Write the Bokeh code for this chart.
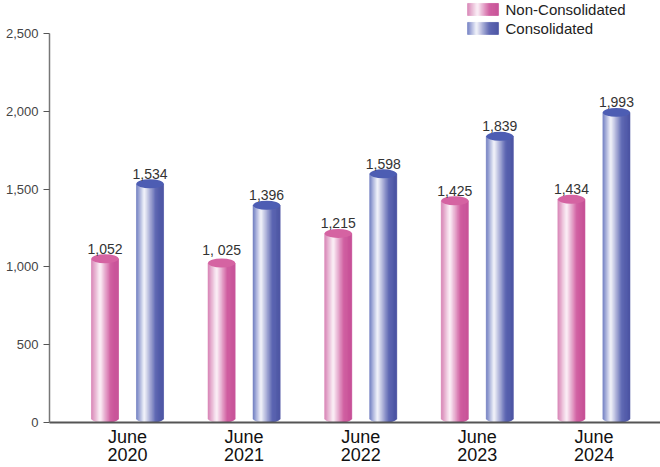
import numpy as np
from bokeh.plotting import figure
from bokeh.models import ColumnDataSource, FixedTicker, Range1d, NumeralTickFormatter
from bokeh.embed import file_html
from bokeh.resources import INLINE
from bokeh.core.properties import value

# ---------------- data ----------------
categories = ["June\n2020", "June\n2021", "June\n2022", "June\n2023", "June\n2024"]
non_consolidated = [1052, 1025, 1215, 1425, 1434]
consolidated = [1534, 1396, 1598, 1839, 1993]
non_labels = ["1,052", "1, 025", "1,215", "1,425", "1,434"]
con_labels = ["1,534", "1,396", "1,598", "1,839", "1,993"]
y_ticks = [0, 500, 1000, 1500, 2000, 2500]
series_names = ["Non-Consolidated", "Consolidated"]

# ---------------- style ----------------
PINK_STOPS = [(0.0, "#d67fb2"), (0.33, "#fcf2f8"), (0.72, "#cf5a9e"), (1.0, "#c54d94")]
BLUE_STOPS = [(0.0, "#6b79c0"), (0.30, "#f4f5fb"), (0.72, "#5963b1"), (1.0, "#474fa0")]
PINK_CAP = "#d563a2"
BLUE_CAP = "#4d5db3"
FONT = "Liberation Sans"
BAR_W = 0.232
OFFSETS = [-0.193, 0.193]
N_STRIPS = 30
CAP_PX = 9
PX_PER_UNIT = 389.0 / 2500.0


def hex2rgb(h):
    h = h.lstrip("#")
    return np.array([int(h[i:i + 2], 16) for i in (0, 2, 4)], dtype=float)


def grad(stops, u):
    for (u0, c0), (u1, c1) in zip(stops[:-1], stops[1:]):
        if u0 <= u <= u1:
            f = (u - u0) / (u1 - u0)
            c = hex2rgb(c0) * (1 - f) + hex2rgb(c1) * f
            return "#%02x%02x%02x" % tuple(int(round(v)) for v in c)
    return stops[-1][1]


def strips(xc, width, bottom_base, top, stops, rounded=True):
    left, right, bottom, tops, colors = [], [], [], [], []
    depth = (CAP_PX / 2.0) / PX_PER_UNIT
    for k in range(N_STRIPS):
        u = (k + 0.5) / N_STRIPS
        t = 2 * u - 1
        l = xc - width / 2 + k * width / N_STRIPS
        left.append(l)
        right.append(l + width / N_STRIPS)
        if rounded:
            bottom.append(bottom_base + depth * (1 - np.sqrt(max(0.0, 1 - t * t))))
        else:
            bottom.append(bottom_base)
        tops.append(top)
        colors.append(grad(stops, u))
    return left, right, bottom, tops, colors


p = figure(width=660, height=467,
           x_range=Range1d(-0.669, 4.571), y_range=Range1d(0, 2712),
           output_backend="svg", toolbar_location=None,
           min_border_left=49, min_border_right=0, min_border_top=0, min_border_bottom=45)
p.background_fill_color = "white"
p.border_fill_color = "white"
p.outline_line_color = None
p.grid.visible = False

# bars as cylinders
L, R, B, T, C = [], [], [], [], []
cap_x, cap_y, cap_c = [], [], []
lab_x, lab_y, lab_t = [], [], []
for series, labels, stops, cap, off in [
        (non_consolidated, non_labels, PINK_STOPS, PINK_CAP, OFFSETS[0]),
        (consolidated, con_labels, BLUE_STOPS, BLUE_CAP, OFFSETS[1])]:
    for i, v in enumerate(series):
        xc = i + off
        l, r, b, t, c = strips(xc, BAR_W, 0.0, v, stops)
        L += l; R += r; B += b; T += t; C += c
        cap_x.append(xc); cap_y.append(v); cap_c.append(cap)
        lab_x.append(xc); lab_y.append(v); lab_t.append(labels[i])

src = ColumnDataSource(dict(left=L, right=R, bottom=B, top=T, color=C))
p.quad(left="left", right="right", bottom="bottom", top="top", source=src,
       fill_color="color", line_color="color", line_width=0.6)
p.ellipse(x=cap_x, y=cap_y, width=BAR_W, height=CAP_PX, height_units="screen",
          fill_color=cap_c, line_color=None)
p.text(x=lab_x, y=lab_y, text=lab_t, text_align="center", text_baseline="bottom",
       y_offset=-5, text_font=value(FONT), text_font_size="14px", text_color="#333333")

# legend (drawn manually so that swatches carry the gradient)
leg_x0, leg_x1 = 2.916, 3.182
leg_rows = [(2616, 2693), (2494, 2571)]
LL, LR, LB, LT, LC = [], [], [], [], []
for (yb, yt), stops in zip(leg_rows, [PINK_STOPS, BLUE_STOPS]):
    l, r, b, t, c = strips((leg_x0 + leg_x1) / 2, leg_x1 - leg_x0, yb, yt, stops, rounded=False)
    LL += l; LR += r; LB += b; LT += t; LC += c
p.quad(left=LL, right=LR, bottom=LB, top=LT, fill_color=LC, line_color=LC, line_width=0.6)
p.text(x=[3.242, 3.242], y=[(a + b) / 2 for a, b in leg_rows], text=series_names,
       text_align="left", text_baseline="middle", text_font=value(FONT),
       text_font_size="15px", text_color="#222222")

# axes
p.xaxis.ticker = FixedTicker(ticks=list(range(len(categories))))
p.xaxis.major_label_overrides = {i: c for i, c in enumerate(categories)}
p.xaxis.axis_line_color = "#555555"
p.xaxis.axis_line_width = 2
p.xaxis.major_tick_line_color = None
p.xaxis.major_tick_out = 0
p.xaxis.major_tick_in = 0
p.xaxis.minor_tick_line_color = None
p.xaxis.minor_tick_out = 0
p.xaxis.major_label_standoff = 4
p.xaxis.major_label_text_font = FONT
p.xaxis.major_label_text_font_size = "18px"
p.xaxis.major_label_text_color = "#111111"
p.xaxis.major_label_text_line_height = 0.9

p.yaxis.ticker = FixedTicker(ticks=y_ticks)
p.yaxis.bounds = (0, 2500)
p.yaxis.formatter = NumeralTickFormatter(format="0,0")
p.yaxis.axis_line_color = "#777777"
p.yaxis.axis_line_width = 1.5
p.yaxis.major_tick_line_color = "#555555"
p.yaxis.major_tick_in = 0
p.yaxis.major_tick_out = 6
p.yaxis.minor_tick_line_color = None
p.yaxis.major_label_standoff = 5
p.yaxis.major_label_text_font = FONT
p.yaxis.major_label_text_font_size = "13px"
p.yaxis.major_label_text_color = "#444444"

open("out.html", "w").write(file_html(p, INLINE))
